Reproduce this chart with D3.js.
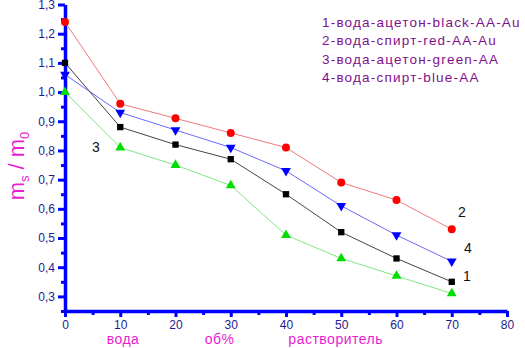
<!DOCTYPE html>
<html>
<head>
<meta charset="utf-8">
<script src="https://cdn.jsdelivr.net/npm/d3@7"></script>
<style>
  body { margin: 0; background: #fff; }
  svg { font-family: "Liberation Sans", Arial, sans-serif; }
  .axis path, .axis line { stroke: #0000ff; }
</style>
</head>
<body>
<svg id="chart" width="525" height="348"></svg>
<script>
// solvent content, vol %
const xs = [0, 10, 20, 30, 40, 50, 60, 70];

// m_s / m_0 for each curve
const s1 = [1.10, 0.88, 0.82, 0.77, 0.65, 0.52, 0.43, 0.35]; // black
const s2 = [1.24, 0.96, 0.91, 0.86, 0.81, 0.69, 0.63, 0.53]; // red
const s3 = [1.00, 0.81, 0.75, 0.68, 0.51, 0.43, 0.37, 0.31]; // green
const s4 = [1.06, 0.93, 0.87, 0.81, 0.73, 0.61, 0.51, 0.42]; // blue

const legendLines = [
  '1-вода-ацетон-black-AA-Au',
  '2-вода-спирт-red-AA-Au',
  '3-вода-ацетон-green-AA',
  '4-вода-спирт-blue-AA'
];

const yTicks = [0.3, 0.4, 0.5, 0.6, 0.7, 0.8, 0.9, 1.0, 1.1, 1.2, 1.3];
const xTicks = [0, 10, 20, 30, 40, 50, 60, 70, 80];

const svg = d3.select('#chart');
const margin = { top: 4.5, right: 18, bottom: 37, left: 65 };
const width = +svg.attr('width');
const height = +svg.attr('height');
const innerWidth = width - margin.left - margin.right;
const innerHeight = height - margin.top - margin.bottom;

const x = d3.scaleLinear().domain([0, 80]).range([0, innerWidth]);
const y = d3.scaleLinear().domain([0.25, 1.3]).range([innerHeight, 0]);

const g = svg.append('g').attr('transform', `translate(${margin.left},${margin.top})`);

const fmt = d => d3.format('.1f')(d).replace('.', ',');

// minor ticks first, under the major ones
g.append('g')
  .attr('class', 'axis')
  .call(d3.axisLeft(y).tickValues(d3.range(0.25, 1.31, 0.1)).tickSize(4).tickFormat(''))
  .call(a => a.select('.domain').remove())
  .call(a => a.selectAll('text').remove())
  .selectAll('line').attr('stroke-width', 3);

g.append('g')
  .attr('class', 'axis')
  .attr('transform', `translate(0,${innerHeight})`)
  .call(d3.axisBottom(x).tickValues(d3.range(5, 80, 10)).tickSize(4).tickFormat(''))
  .call(a => a.select('.domain').remove())
  .call(a => a.selectAll('text').remove())
  .selectAll('line').attr('stroke-width', 3);

const yAxis = g.append('g')
  .attr('class', 'axis')
  .call(d3.axisLeft(y).tickValues(yTicks).tickSize(7).tickPadding(3).tickFormat(fmt).tickSizeOuter(0));
yAxis.select('.domain').attr('stroke-width', 3.5);
yAxis.selectAll('.tick line').attr('stroke-width', 3);
yAxis.attr('font-size', 12).attr('font-family', null);
yAxis.selectAll('text').attr('fill', '#1c1c90');

const xAxis = g.append('g')
  .attr('class', 'axis')
  .attr('transform', `translate(0,${innerHeight})`)
  .call(d3.axisBottom(x).tickValues(xTicks).tickSize(6).tickPadding(3).tickFormat(d3.format('d')).tickSizeOuter(0));
xAxis.select('.domain').attr('stroke-width', 3.5);
xAxis.selectAll('.tick line').attr('stroke-width', 3);
xAxis.attr('font-size', 12).attr('font-family', null);
xAxis.selectAll('text').attr('fill', '#1c1c90');

// series
const series = [
  { vals: s2, line: '#f07a7a', mark: '#ff0000', shape: 'circle' },
  { vals: s4, line: '#6a6aff', mark: '#0000ff', shape: 'down' },
  { vals: s1, line: '#444444', mark: '#000000', shape: 'square' },
  { vals: s3, line: '#80e880', mark: '#00dd00', shape: 'up' }
];

const line = d3.line()
  .x((d, i) => x(xs[i]))
  .y(d => y(d));

series.forEach(s => {
  g.append('path')
    .datum(s.vals)
    .attr('fill', 'none')
    .attr('stroke', s.line)
    .attr('stroke-width', 1)
    .attr('d', line);
});

const tri = d3.symbol().type(d3.symbolTriangle).size(42);
const sq = d3.symbol().type(d3.symbolSquare).size(40);
const circ = d3.symbol().type(d3.symbolCircle).size(50);

series.forEach(s => {
  const shape = s.shape === 'circle' ? circ : s.shape === 'square' ? sq : tri;
  const rot = s.shape === 'down' ? ' rotate(180)' : '';
  g.append('g').selectAll('path')
    .data(s.vals)
    .join('path')
    .attr('fill', s.mark)
    .attr('d', shape)
    .attr('transform', (d, i) => `translate(${x(xs[i])},${y(d)})${rot}`);
});

// curve numbers
const nums = [
  { t: '3', x: 96, y: 152 },
  { t: '2', x: 462, y: 217 },
  { t: '4', x: 468, y: 253 },
  { t: '1', x: 467, y: 281 }
];
svg.selectAll('text.num')
  .data(nums)
  .join('text')
  .attr('class', 'num')
  .attr('x', d => d.x)
  .attr('y', d => d.y)
  .attr('text-anchor', 'middle')
  .attr('font-size', 14)
  .attr('fill', '#111')
  .text(d => d.t);

// legend
svg.append('g')
  .selectAll('text')
  .data(legendLines)
  .join('text')
  .attr('x', 322)
  .attr('y', (d, i) => 27 + i * 18.3)
  .attr('font-size', 13.5)
  .attr('letter-spacing', 1.2)
  .attr('fill', '#80108a')
  .text(d => d);

// y label
const yl = svg.append('text')
  .attr('transform', 'translate(24,166) rotate(-90)')
  .attr('text-anchor', 'middle')
  .attr('fill', '#e81cd0')
  .attr('font-size', 22);
yl.append('tspan').text('m');
yl.append('tspan').attr('font-size', 13).attr('dy', 5).text('s');
yl.append('tspan').attr('dy', -5).text(' / m');
yl.append('tspan').attr('font-size', 13).attr('dy', 5).text('0');

// x labels
const xl = [
  { t: 'вода', v: 10.5 },
  { t: 'об%', v: 28 },
  { t: 'растворитель', v: 49 }
];
g.selectAll('text.xl')
  .data(xl)
  .join('text')
  .attr('class', 'xl')
  .attr('x', d => x(d.v))
  .attr('y', innerHeight + 33)
  .attr('text-anchor', 'middle')
  .attr('font-size', 14)
  .attr('letter-spacing', 0.5)
  .attr('fill', '#e81cd0')
  .text(d => d.t);
</script>
</body>
</html>
